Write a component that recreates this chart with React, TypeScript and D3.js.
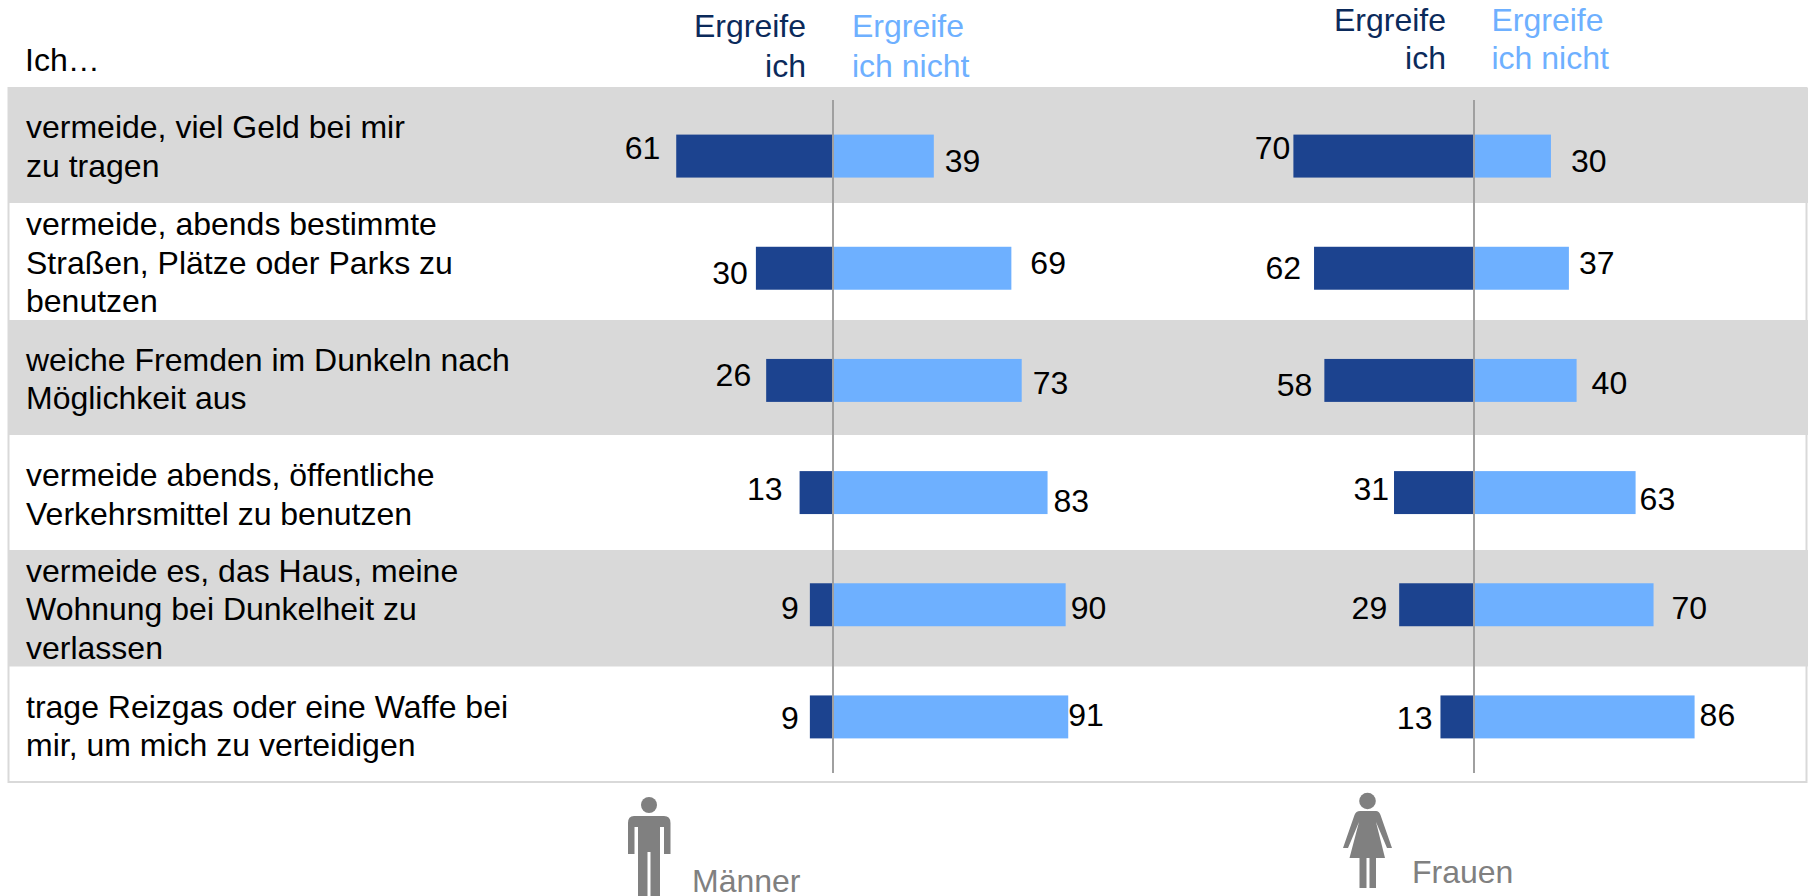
import React from "react";
import * as d3 from "d3";

const rowLines: string[][] = [
  ["vermeide, viel Geld bei mir", "zu tragen"],
  ["vermeide, abends bestimmte", "Straßen, Plätze oder Parks zu", "benutzen"],
  ["weiche Fremden im Dunkeln nach", "Möglichkeit aus"],
  ["vermeide abends, öffentliche", "Verkehrsmittel zu benutzen"],
  ["vermeide es, das Haus, meine", "Wohnung bei Dunkelheit zu", "verlassen"],
  ["trage Reizgas oder eine Waffe bei", "mir, um mich zu verteidigen"],
];
const menYes = [61, 30, 26, 13, 9, 9];
const menNo = [39, 69, 73, 83, 90, 91];
const womenYes = [70, 62, 58, 31, 29, 13];
const womenNo = [30, 37, 40, 63, 70, 86];
const headerYes = ["Ergreife", "ich"];
const headerNo = ["Ergreife", "ich nicht"];

// layout only
const rowEdges = [88, 203, 320, 435, 550, 666.5, 782];
const rowBaselines = [
  [138, 177],
  [235, 274, 312],
  [371, 409],
  [486, 525],
  [582, 620, 659],
  [718, 756],
];
const menYesGap = [16, 8, 15, 17, 11, 11];
const menNoGap = [11, 19, 11, 6, 5, 0];
const womenYesGap = [3, 13, 12, 5, 12, 8];
const womenNoGap = [20, 10, 15, 4, 18, 5];
const menYesLabelY = [159, 284, 386, 500, 619, 729];
const menNoLabelY = [172, 274, 394, 512, 619, 726];
const womenYesLabelY = [159, 279, 396, 500, 619, 729];
const womenNoLabelY = [172, 274, 394, 510, 619, 726];

const W = 1808;
const H = 896;
const FONT = "'Liberation Sans', Arial, sans-serif";
const FS = 32;
const DARK = "#1c438f";
const LIGHT = "#6eb0ff";
const HEAD_DARK = "#0b2a5b";
const GREY = "#d9d9d9";
const LINE = "#a0a0a0";
const ICON = "#808080";

const band = d3
  .scaleBand<number>()
  .domain(d3.range(rowLines.length))
  .range([100, 773])
  .paddingInner(0.617)
  .paddingOuter(0.3085);

function Panel(props: {
  axis: number;
  yesUnit: number;
  noUnit: number;
  yes: number[];
  no: number[];
  yesGap: number[];
  noGap: number[];
  yesY: number[];
  noY: number[];
}) {
  const { axis, yesUnit, noUnit, yes, no, yesGap, noGap, yesY, noY } = props;
  const right = d3.scaleLinear().domain([0, 100]).range([axis, axis + 100 * noUnit]);
  const left = d3.scaleLinear().domain([0, 100]).range([axis, axis - 100 * yesUnit]);
  return (
    <g>
      {yes.map((v, i) => (
        <g key={"y" + i}>
          <rect x={left(v)} y={band(i)} width={axis - left(v)} height={band.bandwidth()} fill={DARK} />
          <text x={left(v) - yesGap[i]} y={yesY[i]} textAnchor="end" fontSize={FS} fill="#000">
            {v}
          </text>
        </g>
      ))}
      {no.map((v, i) => (
        <g key={"n" + i}>
          <rect x={axis} y={band(i)} width={right(v) - axis} height={band.bandwidth()} fill={LIGHT} />
          <text x={right(v) + noGap[i]} y={noY[i]} fontSize={FS} fill="#000">
            {v}
          </text>
        </g>
      ))}
      <line x1={axis} x2={axis} y1={100} y2={773} stroke={LINE} strokeWidth={2} />
    </g>
  );
}

function Header(props: { endX: number; startX: number; y1: number; y2: number }) {
  const { endX, startX, y1, y2 } = props;
  return (
    <g fontSize={FS}>
      <text x={endX} y={y1} textAnchor="end" fill={HEAD_DARK}>{headerYes[0]}</text>
      <text x={endX} y={y2} textAnchor="end" fill={HEAD_DARK}>{headerYes[1]}</text>
      <text x={startX} y={y1} fill={LIGHT}>{headerNo[0]}</text>
      <text x={startX} y={y2} fill={LIGHT}>{headerNo[1]}</text>
    </g>
  );
}

function ManIcon() {
  return (
    <g fill={ICON}>
      <circle cx={649} cy={805} r={8} />
      <path d="M634 816H664Q670.5 816 670.5 823V854H664V827H660V896H650.5V852H647.5V896H638V827H634.5V854H628V823Q628 816 634 816Z" />
    </g>
  );
}

function WomanIcon() {
  return (
    <g fill={ICON}>
      <circle cx={1367.5} cy={801} r={8.3} />
      <path d="M1360 811H1376Q1379 811 1380.5 815L1392 848H1387L1376 822L1385 858H1376V888H1369.5V858H1366.5V888H1359.5V858H1349.5L1359 822L1348 848H1343L1354.5 815Q1356 811 1360 811Z" />
    </g>
  );
}

export default function App() {
  return (
    <svg
      width={W}
      height={H}
      viewBox={`0 0 ${W} ${H}`}
      style={{ position: "absolute", left: 0, top: 0, display: "block", background: "#fff" }}
      fontFamily={FONT}
    >
      <rect x={8.5} y={88} width={1798} height={694} fill="#fff" stroke={GREY} strokeWidth={2} />
      {rowLines.map((_, i) =>
        i % 2 === 0 ? (
          <rect key={i} x={8} y={rowEdges[i]} width={1800} height={rowEdges[i + 1] - rowEdges[i]} fill={GREY} />
        ) : null
      )}
      <text x={25} y={71} fontSize={FS} fill="#000">Ich…</text>
      <Header endX={806} startX={852} y1={37} y2={77} />
      <Header endX={1446} startX={1491.5} y1={31} y2={69} />
      {rowLines.map((lines, i) =>
        lines.map((t, j) => (
          <text key={i + "-" + j} x={26} y={rowBaselines[i][j]} fontSize={FS} fill="#000">
            {t}
          </text>
        ))
      )}
      <Panel axis={833} yesUnit={2.57} noUnit={2.585} yes={menYes} no={menNo} yesGap={menYesGap} noGap={menNoGap} yesY={menYesLabelY} noY={menNoLabelY} />
      <Panel axis={1474} yesUnit={2.58} noUnit={2.565} yes={womenYes} no={womenNo} yesGap={womenYesGap} noGap={womenNoGap} yesY={womenYesLabelY} noY={womenNoLabelY} />
      <ManIcon />
      <WomanIcon />
      <text x={692} y={892} fontSize={FS} fill={ICON}>Männer</text>
      <text x={1412} y={883} fontSize={FS} fill={ICON}>Frauen</text>
    </svg>
  );
}
